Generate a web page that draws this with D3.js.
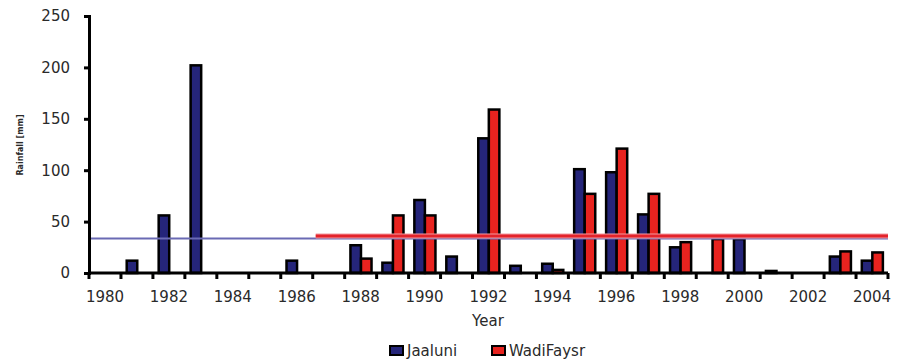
<!DOCTYPE html>
<html><head><meta charset="utf-8">
<script src="https://cdn.jsdelivr.net/npm/d3@7"></script>
<style>
body{margin:0;background:#fff;}
text{font-family:"DejaVu Sans",Verdana,sans-serif;fill:#2a2a2a;}
</style></head>
<body><svg id="c" width="901" height="360"></svg>
<script>
const years = d3.range(1980, 2005);
const seriesNames = ["Jaaluni", "WadiFaysr"];
const jaaluni = [0,12,56,202,0,0,12,0,27,10,71,16,131,7,9,101,98,57,25,0,33,2,0,16,12];
const wadiFaysr = [0,0,0,0,0,0,0,0,14,56,56,0,159,0,3,77,121,77,30,33,0,0,0,21,20];
const yTicks = [0,50,100,150,200,250];
const xTickLabels = [1980,1982,1984,1986,1988,1990,1992,1994,1996,1998,2000,2002,2004];
const meanValues = [33.5, 36];
const meanStartYears = [1980, 1987];
const colors = ["#25257a", "#e8231f"];
const lineColors = ["#6a6ab4", "#e3232b"];

const svg = d3.select("#c");
const m = {left:89, right:13, top:16, bottom:87};
const W = 901, H = 360;
const x = d3.scaleBand().domain(years).range([m.left, W - m.right]).padding(0);
const x1 = d3.scaleBand().domain(seriesNames).range([x.bandwidth()*0.18, x.bandwidth()*0.84]).padding(0);
const y = d3.scaleLinear().domain([0,250]).range([H - m.bottom, m.top]);

const data = years.map((yr,i)=>({year:yr, vals:[jaaluni[i], wadiFaysr[i]]}));

// bars
const g = svg.append("g");
data.forEach(d=>{
  d.vals.forEach((v,si)=>{
    if (v <= 0) return;
    g.append("rect")
      .attr("x", x(d.year) + x1(seriesNames[si]))
      .attr("y", y(v))
      .attr("width", x1.bandwidth())
      .attr("height", y(0) - y(v))
      .attr("fill", colors[si])
      .attr("stroke", "#000")
      .attr("stroke-width", 2.5);
  });
});

// mean lines
svg.append("line")
  .attr("x1", x(meanStartYears[0])).attr("x2", W - m.right)
  .attr("y1", y(meanValues[0])).attr("y2", y(meanValues[0]))
  .attr("stroke", lineColors[0]).attr("stroke-width", 2);
svg.append("line")
  .attr("x1", x(meanStartYears[1]) + 3).attr("x2", W - m.right)
  .attr("y1", y(meanValues[1])).attr("y2", y(meanValues[1]))
  .attr("stroke", "#f29aa0").attr("stroke-width", 5);
svg.append("line")
  .attr("x1", x(meanStartYears[1]) + 3).attr("x2", W - m.right)
  .attr("y1", y(meanValues[1])).attr("y2", y(meanValues[1]))
  .attr("stroke", lineColors[1]).attr("stroke-width", 3);

// y axis
const yAxis = svg.append("g").attr("transform", `translate(${m.left},0)`)
  .call(d3.axisLeft(y).tickValues(yTicks).tickSize(5).tickPadding(14));
yAxis.select(".domain").attr("stroke","#000").attr("stroke-width",3);
yAxis.selectAll(".tick line").attr("stroke","#000").attr("stroke-width",3);
yAxis.selectAll("text").style("font-size","15px").attr("fill","#333");

// x axis: ticks at band boundaries
const xAxisG = svg.append("g").attr("transform", `translate(0,${y(0)})`);
xAxisG.append("line").attr("x1", m.left).attr("x2", W - m.right)
  .attr("stroke","#000").attr("stroke-width",3);
const bounds = years.map(yr => x(yr)).concat([x(years[years.length-1]) + x.bandwidth()]);
xAxisG.selectAll("line.tk").data(bounds).enter().append("line").attr("class","tk")
  .attr("x1", d=>d).attr("x2", d=>d).attr("y1", 0).attr("y2", 6)
  .attr("stroke","#000").attr("stroke-width",3);
xAxisG.selectAll("text.lb").data(xTickLabels).enter().append("text").attr("class","lb")
  .attr("x", d=>x(d) + x.bandwidth()/2).attr("y", 29)
  .attr("text-anchor","middle").style("font-size","15px").text(d=>d);

// axis titles
svg.append("text").attr("x", 488).attr("y", 326).attr("text-anchor","middle")
  .style("font-size","15px").text("Year");
svg.append("text").attr("transform","translate(23,145) rotate(-90)")
  .attr("text-anchor","middle").style("font-size","8px").style("font-weight","bold")
  .text("Rainfall [mm]");

// legend
const legendX = [390, 492];
seriesNames.forEach((s,i)=>{
  svg.append("rect").attr("x", legendX[i]).attr("y", 346).attr("width", 13).attr("height", 9)
    .attr("fill", colors[i]).attr("stroke","#000").attr("stroke-width",2);
  svg.append("text").attr("x", legendX[i] + 17).attr("y", 356)
    .style("font-size","15px").text(s);
});
</script></body></html>
